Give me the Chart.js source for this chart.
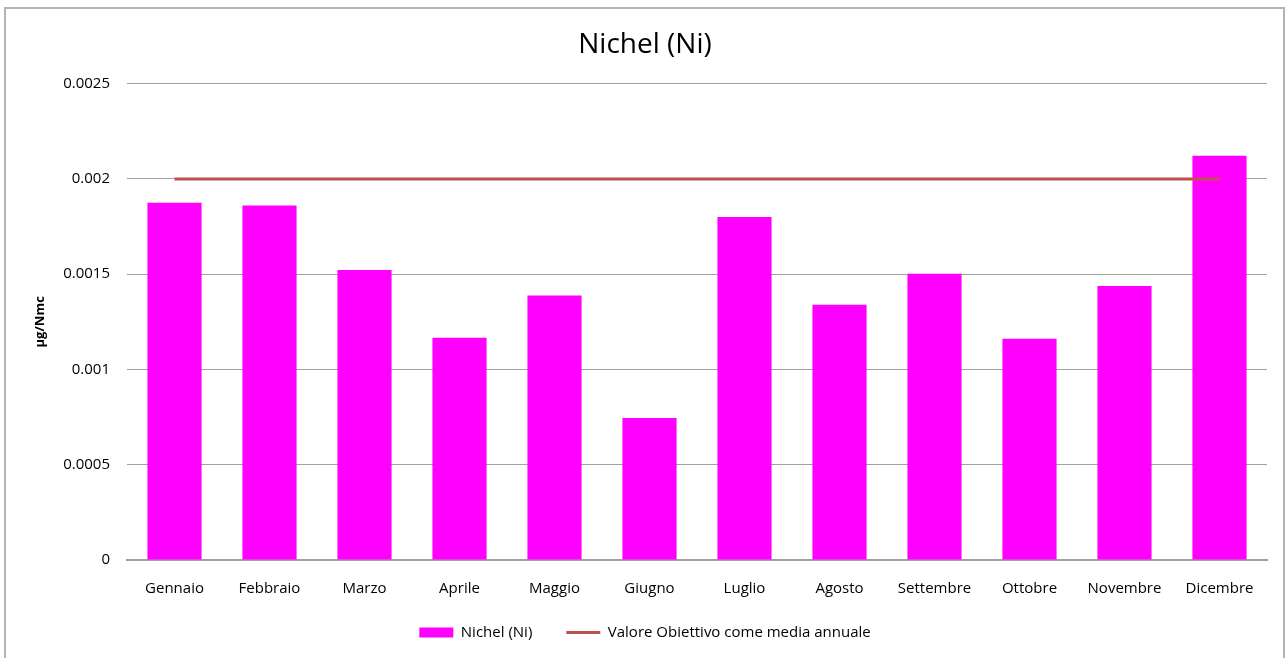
<!DOCTYPE html>
<html lang="it">
<head>
    <meta charset="UTF-8">
    <title>Nichel (Ni)</title>
    <script src="https://cdn.jsdelivr.net/npm/chart.js"></script>
    <style>
        html, body { margin: 0; padding: 0; background: #ffffff; }
        #wrap { position: relative; width: 1287px; height: 658px; }
    </style>
</head>
<body>
    <div id="wrap"><canvas id="niChart" width="1287" height="658"></canvas></div>
    <script>
        // dati
        const mesi = ['Gennaio', 'Febbraio', 'Marzo', 'Aprile', 'Maggio', 'Giugno',
                      'Luglio', 'Agosto', 'Settembre', 'Ottobre', 'Novembre', 'Dicembre'];
        const nichel = [0.001875, 0.00186, 0.001522, 0.001166, 0.001388, 0.000745,
                        0.0018, 0.001339, 0.001502, 0.001161, 0.001438, 0.002122];
        const valoreObiettivo = [0.002, 0.002, 0.002, 0.002, 0.002, 0.002,
                                 0.002, 0.002, 0.002, 0.002, 0.002, 0.002];
        const yTicks = [0, 0.0005, 0.001, 0.0015, 0.002, 0.0025];

        const fontFam = '"Open Sans", "DejaVu Sans", sans-serif';
        const legendPad = 34;   // spazio orizzontale tra le voci
        const legendTrim = 27;  // spazio verticale da togliere sopra la legenda

        // cornice grigia attorno al grafico
        const frame = {
            id: 'frame',
            beforeDraw(chart) {
                const c = chart.ctx;
                c.save();
                c.fillStyle = '#ffffff';
                c.fillRect(0, 0, chart.width, chart.height);
                c.strokeStyle = '#b4b4b4';
                c.lineWidth = 2;
                c.strokeRect(5, 8, 1279, 660);
                c.restore();
            }
        };

        // legenda più bassa: il padding largo serve solo tra le voci
        const legendGap = {
            id: 'legendGap',
            beforeLayout(chart) {
                const lg = chart.legend;
                if (lg && !lg._fitWrapped) {
                    const fit = lg.fit;
                    lg.fit = function () { fit.call(this); this.height -= legendTrim; };
                    lg._fitWrapped = true;
                }
            },
            afterLayout(chart) {
                if (chart.legend) chart.legend.top -= legendTrim;
            }
        };

        let ctx = document.getElementById('niChart').getContext('2d');
        let chart = new Chart(ctx, {
            data: {
                labels: mesi,
                datasets: [{
                    type: 'bar',
                    label: 'Nichel (Ni)',
                    data: nichel,
                    backgroundColor: '#ff00ff',
                    borderWidth: 0,
                    categoryPercentage: 1,
                    barPercentage: 0.57,
                    pointStyle: 'rect',
                    order: 2
                }, {
                    type: 'line',
                    label: 'Valore Obiettivo come media annuale',
                    data: valoreObiettivo,
                    borderColor: '#c0504d',
                    backgroundColor: '#c0504d',
                    borderWidth: 3,
                    pointRadius: 0,
                    pointStyle: 'line',
                    order: 1
                }]
            },
            options: {
                responsive: false,
                animation: false,
                layout: { padding: { left: 23, right: 20, top: 28, bottom: 8 } },
                plugins: {
                    title: {
                        display: true,
                        text: 'Nichel (Ni)',
                        color: '#000000',
                        font: { family: fontFam, size: 28, weight: 'normal' },
                        padding: { top: 0, bottom: 22 }
                    },
                    legend: {
                        position: 'bottom',
                        labels: {
                            usePointStyle: true,
                            pointStyleWidth: 34,
                            boxHeight: 10,
                            padding: legendPad,
                            color: '#000000',
                            font: { family: fontFam, size: 15 },
                            sort: (a, b) => a.datasetIndex - b.datasetIndex
                        }
                    },
                    tooltip: { enabled: false }
                },
                scales: {
                    x: {
                        grid: { display: false, drawTicks: false },
                        border: { color: '#a0a0a0', width: 2 },
                        ticks: {
                            color: '#000000',
                            padding: 20,
                            font: { family: fontFam, size: 15 }
                        }
                    },
                    y: {
                        min: 0,
                        max: 0.0025,
                        afterBuildTicks(scale) {
                            scale.ticks = yTicks.map(v => ({ value: v }));
                        },
                        afterFit(scale) { scale.width = 104; },
                        grid: { color: '#a0a0a0', lineWidth: 1, tickLength: 14, tickColor: '#ffffff' },
                        border: { display: false },
                        title: {
                            display: true,
                            text: 'µg/Nmc',
                            color: '#000000',
                            font: { family: fontFam, size: 13, weight: 'bold' },
                            padding: { top: 9, bottom: 0 }
                        },
                        ticks: {
                            color: '#000000',
                            padding: 3,
                            font: { family: fontFam, size: 15 },
                            callback: v => String(Number(v.toFixed(4)))
                        }
                    }
                }
            },
            plugins: [frame, legendGap]
        });
    </script>
</body>
</html>
